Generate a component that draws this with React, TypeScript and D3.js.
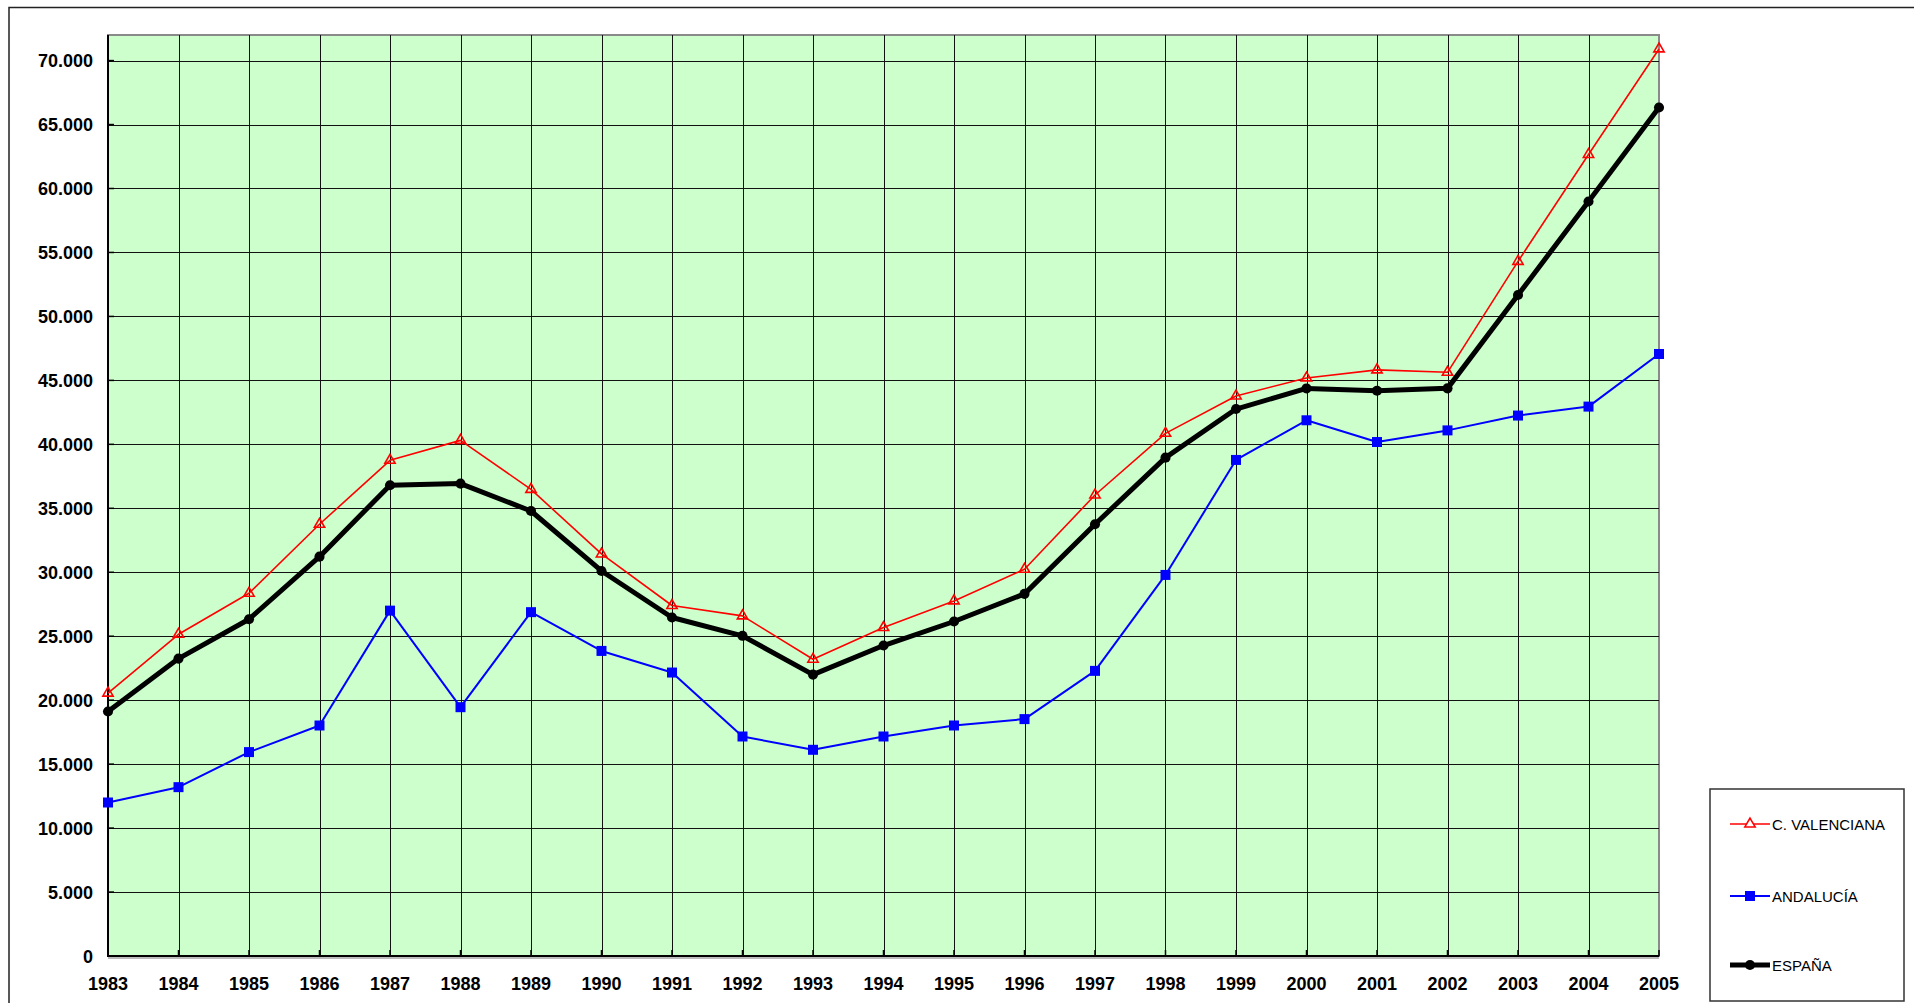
import React from 'react'
import * as d3 from 'd3'

// años y series
const years = [
  1983, 1984, 1985, 1986, 1987, 1988, 1989, 1990, 1991, 1992, 1993, 1994,
  1995, 1996, 1997, 1998, 1999, 2000, 2001, 2002, 2003, 2004, 2005,
]
const valenciana = [
  20550, 25150, 28360, 33750, 38750, 40310, 36480, 31430, 27400, 26590, 23200,
  25680, 27760, 30230, 36040, 40860, 43780, 45190, 45820, 45630, 54300, 62660,
  70910,
]
const andalucia = [
  12000, 13200, 15940, 18020, 27000, 19450, 26880, 23850, 22160, 17160, 16120,
  17160, 18020, 18520, 22290, 29790, 38780, 41880, 40180, 41090, 42250, 42950,
  47060,
]
const espana = [
  19110, 23250, 26330, 31220, 36800, 36930, 34790, 30100, 26460, 25030, 22000,
  24270, 26150, 28310, 33750, 38960, 42760, 44370, 44190, 44375, 51670, 58985,
  66330,
]
const yTicks = [
  0, 5000, 10000, 15000, 20000, 25000, 30000, 35000, 40000, 45000, 50000,
  55000, 60000, 65000, 70000,
]
const seriesNames = ['C. VALENCIANA', 'ANDALUCÍA', 'ESPAÑA']

const W = 1914
const H = 1003
const plot = { left: 108, right: 1659, top: 35, bottom: 956 }
const font = '"Liberation Sans", Arial, sans-serif'

const fmt = (v: number) => (v === 0 ? '0' : d3.format(',')(v).replace(/,/g, '.'))

export default function App() {
  const x = d3
    .scaleLinear()
    .domain([years[0], years[years.length - 1]])
    .range([plot.left, plot.right])
  const y = d3.scaleLinear().domain([0, 72000]).range([plot.bottom, plot.top])

  const line = d3
    .line<number>()
    .x((_, i) => x(years[i]))
    .y(d => y(d))

  const tri = d3.symbol(d3.symbolTriangle, 46)()
  const sq = d3.symbol(d3.symbolSquare, 100)()
  const circ = d3.symbol(d3.symbolCircle, 80)()

  const series = [
    { name: seriesNames[0], data: valenciana, color: '#FF0000', width: 1.6, marker: tri, fill: 'none', mstroke: 1.6 },
    { name: seriesNames[1], data: andalucia, color: '#0000FF', width: 2, marker: sq, fill: '#0000FF', mstroke: 0 },
    { name: seriesNames[2], data: espana, color: '#000000', width: 5, marker: circ, fill: '#000000', mstroke: 0 },
  ]

  const legendY = [824, 896, 965]

  return (
    <svg
      width={W}
      height={H}
      style={{ position: 'absolute', left: 0, top: 0, display: 'block', background: '#fff' }}
    >
      {/* marco exterior */}
      <rect x={9} y={7.5} width={W + 20} height={H + 20} fill="#fff" stroke="#222" strokeWidth={1.5} />

      {/* área de trazado */}
      <rect
        x={plot.left}
        y={plot.top}
        width={plot.right - plot.left}
        height={plot.bottom - plot.top}
        fill="#CCFFCC"
        stroke="#8a8a8a"
        strokeWidth={2}
      />

      {/* rejilla */}
      <g stroke="#111" strokeWidth={1}>
        {yTicks.slice(1).map(t => (
          <line key={'h' + t} x1={plot.left} x2={plot.right} y1={Math.round(y(t)) + 0.5} y2={Math.round(y(t)) + 0.5} />
        ))}
        {years.slice(1, -1).map(yr => (
          <line key={'v' + yr} x1={Math.round(x(yr)) + 0.5} x2={Math.round(x(yr)) + 0.5} y1={plot.top} y2={plot.bottom} />
        ))}
      </g>

      {/* ejes */}
      <line x1={plot.left} x2={plot.left} y1={plot.top} y2={plot.bottom + 1} stroke="#000" strokeWidth={2} />
      <line x1={plot.left} x2={plot.right} y1={plot.bottom + 2} y2={plot.bottom + 2} stroke="#bbb" strokeWidth={2} />
      <line x1={plot.left} x2={plot.right} y1={plot.bottom} y2={plot.bottom} stroke="#000" strokeWidth={2} />
      <g stroke="#000" strokeWidth={1.5}>
        {yTicks.map(t => (
          <line key={'yt' + t} x1={plot.left} x2={plot.left + 6} y1={y(t)} y2={y(t)} />
        ))}
        {years.map(yr => (
          <line key={'xt' + yr} x1={x(yr)} x2={x(yr)} y1={plot.bottom} y2={plot.bottom - 6} />
        ))}
      </g>

      {/* etiquetas */}
      <g fontFamily={font} fontWeight="bold" fontSize={18} fill="#000">
        {yTicks.map(t => (
          <text key={'yl' + t} x={93} y={y(t) + 6.5} textAnchor="end">
            {fmt(t)}
          </text>
        ))}
        {years.map(yr => (
          <text key={'xl' + yr} x={x(yr)} y={989.5} textAnchor="middle">
            {yr}
          </text>
        ))}
      </g>

      {/* series */}
      {series.map(s => (
        <g key={s.name}>
          <path d={line(s.data) || ''} fill="none" stroke={s.color} strokeWidth={s.width} strokeLinejoin="round" />
          {s.data.map((v, i) => (
            <path
              key={i}
              d={s.marker || ''}
              transform={`translate(${x(years[i])},${y(v)})`}
              fill={s.fill}
              stroke={s.mstroke ? s.color : 'none'}
              strokeWidth={s.mstroke}
            />
          ))}
        </g>
      ))}

      {/* leyenda */}
      <rect x={1710} y={789} width={194} height={212} fill="#fff" stroke="#333" strokeWidth={1.5} />
      {series.map((s, i) => (
        <g key={'lg' + s.name}>
          <line x1={1730} x2={1770} y1={legendY[i]} y2={legendY[i]} stroke={s.color} strokeWidth={s.width} />
          <path
            d={s.marker || ''}
            transform={`translate(1750,${legendY[i]})`}
            fill={s.mstroke ? '#fff' : s.fill}
            stroke={s.mstroke ? s.color : 'none'}
            strokeWidth={s.mstroke}
          />
          <text x={1772} y={legendY[i] + 5.5} fontFamily={font} fontSize={15} fill="#000">
            {s.name}
          </text>
        </g>
      ))}
    </svg>
  )
}
